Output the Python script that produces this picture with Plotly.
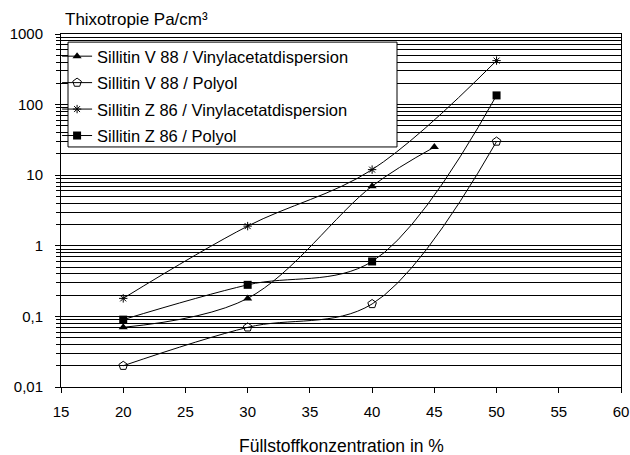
import plotly.graph_objects as go

x_v88_vinyl = [20, 30, 40, 45]
y_v88_vinyl = [0.07, 0.18, 7, 25]
x_v88_polyol = [20, 30, 40, 50]
y_v88_polyol = [0.02, 0.07, 0.15, 30]
x_z86_vinyl = [20, 30, 40, 50]
y_z86_vinyl = [0.18, 1.9, 12, 420]
x_z86_polyol = [20, 30, 40, 50]
y_z86_polyol = [0.09, 0.28, 0.6, 135]

names = ["Sillitin V 88 / Vinylacetatdispersion", "Sillitin V 88 / Polyol",
         "Sillitin Z 86 / Vinylacetatdispersion", "Sillitin Z 86 / Polyol"]

y_tickvals = [0.01, 0.1, 1, 10, 100, 1000]
y_ticktext = ["0,01", "0,1", "1", "10", "100", "1000"]
x_tickvals = [15, 20, 25, 30, 35, 40, 45, 50, 55, 60]

FONT = "Liberation Sans, Arial, sans-serif"

fig = go.Figure()
series = [
    (x_v88_vinyl, y_v88_vinyl, dict(symbol="triangle-up", size=8, color="black")),
    (x_v88_polyol, y_v88_polyol, dict(symbol="pentagon-open", size=9, color="black", line=dict(width=1, color="black"))),
    (x_z86_vinyl, y_z86_vinyl, dict(symbol="asterisk-open", size=7, color="black", line=dict(width=1, color="black"))),
    (x_z86_polyol, y_z86_polyol, dict(symbol="square", size=8, color="black")),
]
for i, (xs, ys, mk) in enumerate(series):
    fig.add_trace(go.Scatter(
        x=xs, y=ys, name=names[i], mode="lines+markers",
        line=dict(color="black", width=1, shape="spline", smoothing=1.0),
        marker=mk, legendgroup=f"g{i}",
    ))

fig.update_layout(
    width=630, height=455,
    margin=dict(l=61, r=9, t=34, b=68),
    paper_bgcolor="white", plot_bgcolor="white",
    font=dict(family=FONT, size=15, color="black"),
    showlegend=True,
    legend=dict(x=-0.007, y=0.986, xanchor="left", yanchor="top",
                borderwidth=0, bgcolor="rgba(0,0,0,0)",
                font=dict(size=16.5), tracegroupgap=2, itemwidth=30),
    xaxis=dict(range=[15, 60], tickvals=x_tickvals, showgrid=False,
               showline=True, linecolor="black", linewidth=1, mirror=True,
               ticks="outside", ticklen=5, tickcolor="black", zeroline=False,
               ticklabelstandoff=6, automargin=False),
    yaxis=dict(type="log", range=[-2, 3], tickvals=y_tickvals, ticktext=y_ticktext,
               showgrid=True, gridcolor="black", gridwidth=1,
               showline=True, linecolor="black", linewidth=1, mirror=True,
               ticks="outside", ticklen=5, tickcolor="black", ticklabelstandoff=9,
               automargin=False,
               minor=dict(dtick="D1", ticks="outside", ticklen=4, tickcolor="black",
                          showgrid=True, gridcolor="black", gridwidth=1)),
    shapes=[dict(type="rect", xref="paper", yref="paper",
                 x0=0.0125, x1=0.6, y0=0.680, y1=0.977, layer="above",
                 fillcolor="white", line=dict(color="black", width=1))],
    annotations=[
        dict(text="Thixotropie Pa/cm³", x=0.003, y=1.0, xref="paper", yref="paper",
             xanchor="left", yanchor="bottom", yshift=3, showarrow=False,
             font=dict(size=17)),
        dict(text="Füllstoffkonzentration in %", x=0.5, y=-0.167, xref="paper", yref="paper",
             xanchor="center", yanchor="middle", showarrow=False, font=dict(size=17.5)),
    ],
)

fig.write_html(
    "out.html",
    config={"displayModeBar": False},
    post_script="document.documentElement.style.margin='0';document.body.style.margin='0';"
                "document.body.style.overflow='hidden';document.documentElement.style.overflow='hidden';",
)
